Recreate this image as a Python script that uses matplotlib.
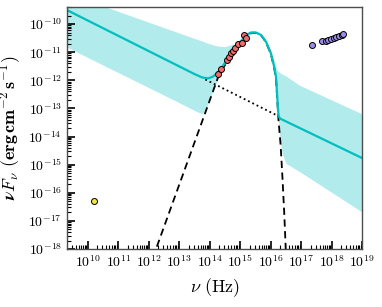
import numpy as np
import matplotlib
matplotlib.use("Agg")
import matplotlib.pyplot as plt

plt.rcParams["mathtext.fontset"] = "cm"
plt.rcParams["font.family"] = "serif"
plt.rcParams["font.serif"] = ["cmr10", "DejaVu Serif"]
plt.rcParams["axes.formatter.use_mathtext"] = True

# all values below are log10(nu / Hz) and log10(nuFnu / erg cm^-2 s^-1)

# optical/UV photometry (red)
opt_lognu = [14.27, 14.38, 14.57, 14.63, 14.70, 14.76, 14.84, 14.92, 15.04, 15.13, 15.19]
opt_logf = [-11.78, -11.59, -11.28, -11.16, -11.04, -10.95, -10.84, -10.71, -10.67, -10.40, -10.49]

# X-ray points (purple)
xr_lognu = [17.36, 17.67, 17.80, 17.89, 17.97, 18.06, 18.15, 18.24, 18.32, 18.38]
xr_logf = [-10.73, -10.62, -10.59, -10.57, -10.53, -10.51, -10.47, -10.44, -10.40, -10.36]

# radio point (yellow)
radio_lognu = [10.21]
radio_logf = [-16.30]

# total model (power law + thermal bump)
tot_lognu = [9.31, 13.5, 13.75, 13.95, 14.1, 14.22, 14.35, 14.64, 14.97, 15.19, 15.35,
             15.51, 15.68, 15.84, 16.00, 16.11, 16.17, 16.21, 16.25, 16.30, 19.0]
tot_logf = [-9.50, -11.78, -11.90, -11.93, -11.87, -11.76, -11.60, -11.16, -10.69, -10.39, -10.30,
            -10.30, -10.39, -10.63, -11.04, -11.52, -11.88, -12.60, -13.25, -13.36, -14.77]

# thermal component (dashed)
bb_lognu = [12.0, 14.3, 14.64, 14.97, 15.19, 15.35, 15.51, 15.68, 15.84, 16.00,
            16.11, 16.17, 16.25, 16.32, 16.38, 16.44, 16.49, 16.54]
bb_logf = [-18.70, -11.80, -11.20, -10.71, -10.40, -10.31, -10.31, -10.40, -10.64, -11.06,
           -11.56, -11.95, -13.40, -14.30, -15.45, -16.75, -18.04, -19.40]

# power law alone, where it sits under the bump (dotted)
pl_lognu = [13.85, 16.24]
pl_logf = [-11.97, -13.27]

# uncertainty band
band_lognu = [9.31, 13.0, 13.6, 13.75, 13.9, 14.1, 14.3, 14.5, 14.8, 15.1, 15.4,
              15.6, 15.8, 16.0, 16.1, 16.2, 16.3, 16.37, 16.5, 16.93, 19.0]
band_up = [-8.90, -10.32, -10.55, -10.60, -10.67, -10.74, -10.79, -10.80, -10.70, -10.44, -10.26,
           -10.30, -10.51, -10.94, -11.29, -11.63, -11.73, -11.78, -11.85, -12.17, -13.20]
band_lo = [-10.82, -12.80, -13.13, -13.18, -12.95, -12.40, -11.83, -11.45, -10.95, -10.55, -10.33,
           -10.36, -10.60, -11.08, -11.58, -12.70, -14.15, -14.60, -14.96, -15.24, -16.69]


def p(v):
    return 10.0 ** np.asarray(v)


fig = plt.figure(figsize=(3.82, 3.07), dpi=100)
ax = fig.add_axes([0.175, 0.189, 0.7735, 0.788])

ax.fill_between(p(band_lognu), p(band_lo), p(band_up), color="c", alpha=0.3, lw=0)
ax.plot(p(pl_lognu), p(pl_logf), ls=":", color="k", lw=1.3)
ax.plot(p(bb_lognu), p(bb_logf), ls="--", color="k", lw=1.3, dashes=(4, 2.5))
ax.plot(p(tot_lognu), p(tot_logf), color="c", lw=1.6)

ax.plot(p(opt_lognu), p(opt_logf), "o", color="#f26b6b", mec="k", mew=0.7, ms=4.3)
ax.plot(p(xr_lognu), p(xr_logf), "o", color="#9c8ee6", mec="k", mew=0.7, ms=4.3)
ax.plot(p(radio_lognu), p(radio_logf), "o", color="#f5e642", mec="k", mew=0.7, ms=4.3)

ax.set_xscale("log")
ax.set_yscale("log")
ax.set_xlim(10 ** 9.31, 1e19)
ax.set_ylim(1e-18, 10 ** -9.395)

ax.xaxis.set_major_locator(matplotlib.ticker.LogLocator(base=10, numticks=20))
ax.yaxis.set_major_locator(matplotlib.ticker.LogLocator(base=10, numticks=20))
ax.xaxis.set_minor_locator(matplotlib.ticker.LogLocator(base=10, subs=np.arange(2, 10), numticks=20))
ax.yaxis.set_minor_locator(matplotlib.ticker.LogLocator(base=10, subs=np.arange(2, 10), numticks=20))
ax.xaxis.set_minor_formatter(matplotlib.ticker.NullFormatter())
ax.yaxis.set_minor_formatter(matplotlib.ticker.NullFormatter())

ax.tick_params(which="both", direction="in", top=False, right=False, labelsize=10, colors="k")
ax.tick_params(which="major", length=6, width=1.2)
ax.tick_params(which="minor", length=3, width=0.8)
for s in ax.spines.values():
    s.set_color("0.3")
    s.set_linewidth(1.0)

ax.set_xlabel(r"$\nu\ (\mathrm{Hz})$", fontsize=13)
ax.set_ylabel(r"$\boldsymbol{\nu F_\nu}\ \mathbf{(erg\,cm^{-2}\,s^{-1})}$", fontsize=13)

fig.savefig("out.png", dpi=100)
